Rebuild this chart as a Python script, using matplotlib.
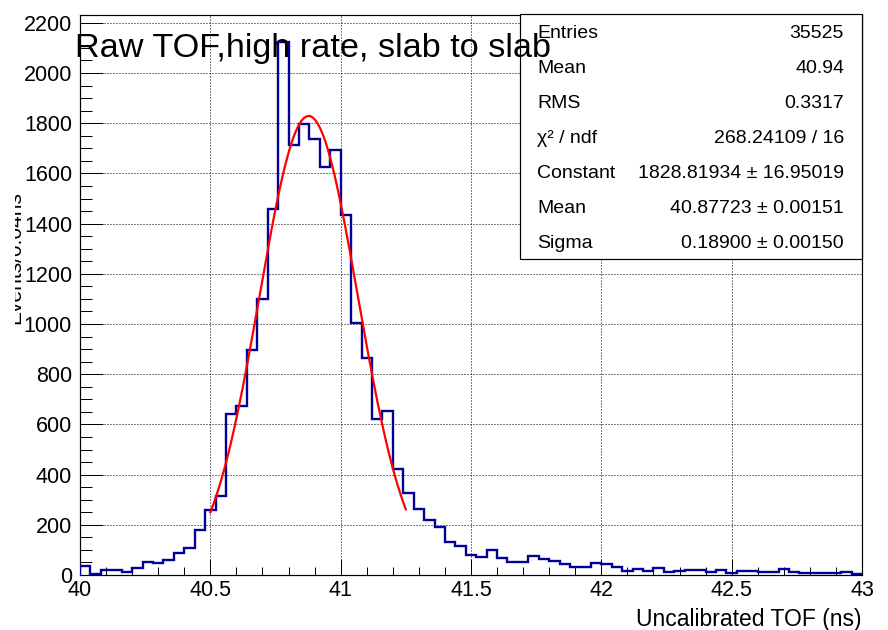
import numpy as np
import matplotlib
matplotlib.use("Agg")
import matplotlib.pyplot as plt
from matplotlib.patches import Rectangle
from matplotlib.ticker import MultipleLocator, FuncFormatter
from matplotlib.transforms import Bbox

plt.rcParams['font.family'] = ['Liberation Sans', 'DejaVu Sans']
plt.rcParams['lines.scale_dashes'] = False

# Histogram binning (ns)
bin_low = 40.0
bin_high = 43.0
n_bins = 75

# Counts per 0.04 ns bin
counts = [
    35, 4, 20, 20, 10, 29, 53, 49, 60, 88,
    108, 178, 259, 315, 640, 673, 897, 1100, 1457, 2125,
    1714, 1798, 1736, 1627, 1692, 1434, 1003, 866, 623, 652,
    423, 326, 261, 219, 193, 133, 114, 81, 72, 100,
    67, 52, 52, 76, 63, 56, 43, 33, 33, 46,
    42, 32, 17, 23, 16, 27, 13, 14, 19, 19,
    11, 19, 7, 16, 16, 11, 11, 25, 13, 7,
    7, 7, 7, 13, 3,
]

# Gaussian fit result
fit_constant = 1828.81934
fit_mean = 40.87723
fit_sigma = 0.18900
fit_low = 40.5
fit_high = 41.25

title = "Raw TOF,high rate, slab to slab"
x_title = "Uncalibrated TOF (ns)"
y_title = "Events/0.04ns"

stats_labels = ["Entries", "Mean", "RMS", "\u03c7\u00b2 / ndf", "Constant", "Mean", "Sigma"]
stats_values = ["35525", "40.94", "0.3317", "268.24109 / 16",
                "1828.81934 \u00b1 16.95019", "40.87723 \u00b1 0.00151",
                "0.18900 \u00b1 0.00150"]

W, H = 888, 630
PT = 72.0 / 100.0  # points per pixel


def fx(px):
    return px / W


def fy(py):
    return 1.0 - py / H


fig = plt.figure(figsize=(W / 100, H / 100), dpi=100)
ax = fig.add_axes([fx(80), fy(575), (862 - 80) / W, (575 - 15) / H])

edges = np.linspace(bin_low, bin_high, n_bins + 1)
ax.stairs(counts, edges, color='#000099', lw=1.7, zorder=3)

xf = np.linspace(fit_low, fit_high, 200)
yf = fit_constant * np.exp(-0.5 * ((xf - fit_mean) / fit_sigma) ** 2)
ax.plot(xf, yf, color='#ff0000', lw=1.6, zorder=4)

ax.set_xlim(bin_low, bin_high)
ax.set_ylim(0, 1.05 * max(counts))

ax.xaxis.set_major_locator(MultipleLocator(0.5))
ax.xaxis.set_minor_locator(MultipleLocator(0.1))
ax.yaxis.set_major_locator(MultipleLocator(200))
ax.yaxis.set_minor_locator(MultipleLocator(50))
fmt = FuncFormatter(lambda v, p: f"{v:g}")
ax.xaxis.set_major_formatter(fmt)
ax.yaxis.set_major_formatter(fmt)

ax.tick_params(which='both', direction='in', top=False, right=False,
               width=1.0 * PT, color='black', labelsize=15.5)
ax.tick_params(axis='x', which='major', length=16 * PT, pad=5 * PT)
ax.tick_params(axis='x', which='minor', length=8.5 * PT)
ax.tick_params(axis='y', which='major', length=23 * PT, pad=8 * PT)
ax.tick_params(axis='y', which='minor', length=12 * PT)

ax.grid(True, which='major', color='black', lw=1.0 * PT,
        linestyle=(0, (1.0 * PT, 2.0 * PT)), zorder=1)
ax.set_axisbelow(True)
for s in ax.spines.values():
    s.set_linewidth(1.2 * PT)
    s.set_color('black')

# Axis titles
fig.text(fx(861), fy(626), x_title, ha='right', va='baseline', fontsize=16.5)
yl = fig.text(fx(24), fy(258), y_title, rotation=90, ha='right', va='center',
              fontsize=15, zorder=3)
yl.set_clip_box(Bbox.from_extents(15, 0, 60, H))
yl.set_clip_on(True)

# Statistics box
box = Rectangle((fx(520), fy(259)), (862 - 520) / W, (259 - 14) / H,
                transform=fig.transFigure, facecolor='white',
                edgecolor='black', lw=1.2 * PT, zorder=2)
fig.add_artist(box)
for i, (lab, val) in enumerate(zip(stats_labels, stats_values)):
    yb = fy(37.5 + 35.1 * i)
    fig.text(fx(537), yb, lab, ha='left', va='baseline', fontsize=14, zorder=2.5)
    fig.text(fx(844), yb, val, ha='right', va='baseline', fontsize=14, zorder=2.5)

# Title over everything
fig.text(fx(75), fy(57), title, ha='left', va='baseline', fontsize=24.7, zorder=5)

fig.savefig("out.png", dpi=100)
